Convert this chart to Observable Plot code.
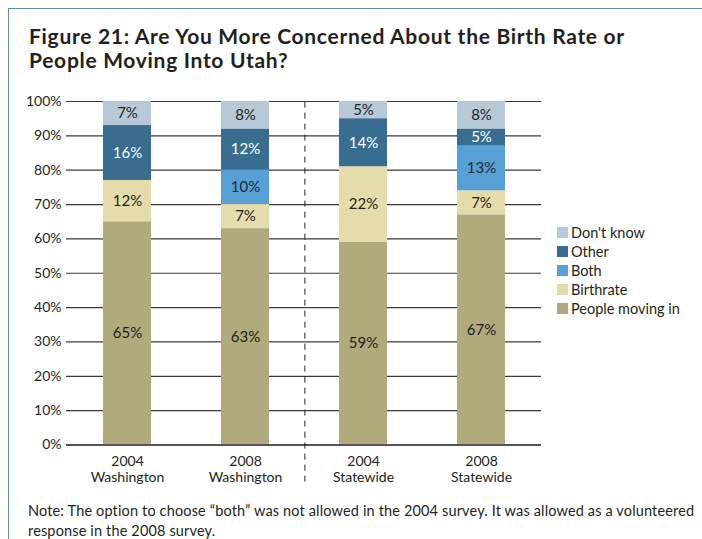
<!DOCTYPE html>
<html>
<head>
<meta charset="utf-8">
<script src="https://cdn.jsdelivr.net/npm/d3@7"></script>
<script src="https://cdn.jsdelivr.net/npm/@observablehq/plot@0.6"></script>
<style>
  html, body { margin: 0; padding: 0; background: #fff; }
  body { width: 702px; height: 539px; position: relative; overflow: hidden; font-family: Lato, "Open Sans", sans-serif; color: #231f20; }
  #frameTop { position: absolute; left: 8px; top: 8px; width: 694px; height: 0; border-top: 1.5px solid #5b8db5; }
  #frameLeft { position: absolute; left: 8px; top: 8px; width: 0; height: 531px; border-left: 1.5px solid #5b8db5; }
  #title { position: absolute; left: 29px; top: 24px; font-size: 21px; font-weight: 700; line-height: 23.5px; letter-spacing: 0.7px; white-space: nowrap; }
  #chart { position: absolute; left: 0; top: 0; }
  #legend { position: absolute; left: 557px; top: 223px; font-size: 14.5px; }
  .li { display: flex; align-items: center; height: 19px; }
  .sw { width: 11px; height: 11px; margin-right: 3px; }
  #note { position: absolute; left: 28px; top: 501px; font-size: 14.5px; line-height: 20px; letter-spacing: 0.15px; width: 680px; }
</style>
</head>
<body>
<div id="frameTop"></div>
<div id="frameLeft"></div>
<div id="title">Figure 21: Are You More Concerned About the Birth Rate or<br>People Moving Into Utah?</div>
<div id="chart"></div>
<div id="legend"></div>
<div id="note">Note: The option to choose “both” was not allowed in the 2004 survey. It was allowed as a volunteered response in the 2008 survey.</div>
<script>
const categories = ["2004\nWashington", "2008\nWashington", "2004\nStatewide", "2008\nStatewide"];
const responses = ["People moving in", "Birthrate", "Both", "Other", "Don't know"];
const peopleMovingIn = [65, 63, 59, 67];
const birthrate = [12, 7, 22, 7];
const both = [0, 10, 0, 13];
const other = [16, 12, 14, 5];
const dontKnow = [7, 8, 5, 8];
const yTicks = [0, 10, 20, 30, 40, 50, 60, 70, 80, 90, 100];
const colors = ["#b0aa7c", "#e6dbab", "#57a0d6", "#386d90", "#b7c9d8"];
const labelColors = ["#231f20", "#231f20", "#1d2a38", "#ffffff", "#231f20"];

const series = [peopleMovingIn, birthrate, both, other, dontKnow];
const rows = [];
categories.forEach((c, i) => {
  responses.forEach((r, j) => {
    rows.push({category: c, response: r, value: series[j][i], labelColor: labelColors[j]});
  });
});
const labelRows = rows.filter(d => d.value > 0);

const plot = Plot.plot({
  width: 702,
  height: 490,
  marginLeft: 66,
  marginRight: 161,
  marginTop: 101,
  marginBottom: 45.5,
  style: {fontFamily: "Lato, 'Open Sans', sans-serif", fontSize: "14px", color: "#231f20", background: "transparent"},
  x: {domain: categories, paddingInner: 0.596, paddingOuter: 0.298, label: null},
  y: {domain: [0, 100], label: null},
  color: {domain: responses, range: colors},
  marks: [
    Plot.ruleY(yTicks.filter(d => d > 0), {stroke: "#3a3a3a", strokeWidth: 1.2}),
    Plot.barY(rows, Plot.stackY({x: "category", y: "value", fill: "response", order: responses})),
    Plot.text(labelRows, Plot.stackY({x: "category", y: "value", z: "response", order: responses, text: d => d.value + "%", fill: "labelColor", fontSize: 15})),
    Plot.ruleY([0], {stroke: "#555", strokeWidth: 2}),
    Plot.ruleX([categories[1]], {y1: -10.8, y2: 100, dx: 59.4, stroke: "#231f20", strokeWidth: 1, strokeDasharray: "6,5", clip: false}),
    Plot.axisY({ticks: yTicks, tickFormat: d => d + "%", tickSize: 0, tickPadding: 5, fontSize: 14, label: null}),
    Plot.axisX({tickSize: 0, tickPadding: 10, fontSize: 14, label: null, lineHeight: 1.12})
  ]
});
document.getElementById("chart").appendChild(plot);

const legend = document.getElementById("legend");
const legendOrder = ["Don't know", "Other", "Both", "Birthrate", "People moving in"];
legendOrder.forEach(r => {
  const row = document.createElement("div");
  row.className = "li";
  const sw = document.createElement("div");
  sw.className = "sw";
  sw.style.background = colors[responses.indexOf(r)];
  const t = document.createElement("span");
  t.textContent = r;
  row.appendChild(sw);
  row.appendChild(t);
  legend.appendChild(row);
});
</script>
</body>
</html>
